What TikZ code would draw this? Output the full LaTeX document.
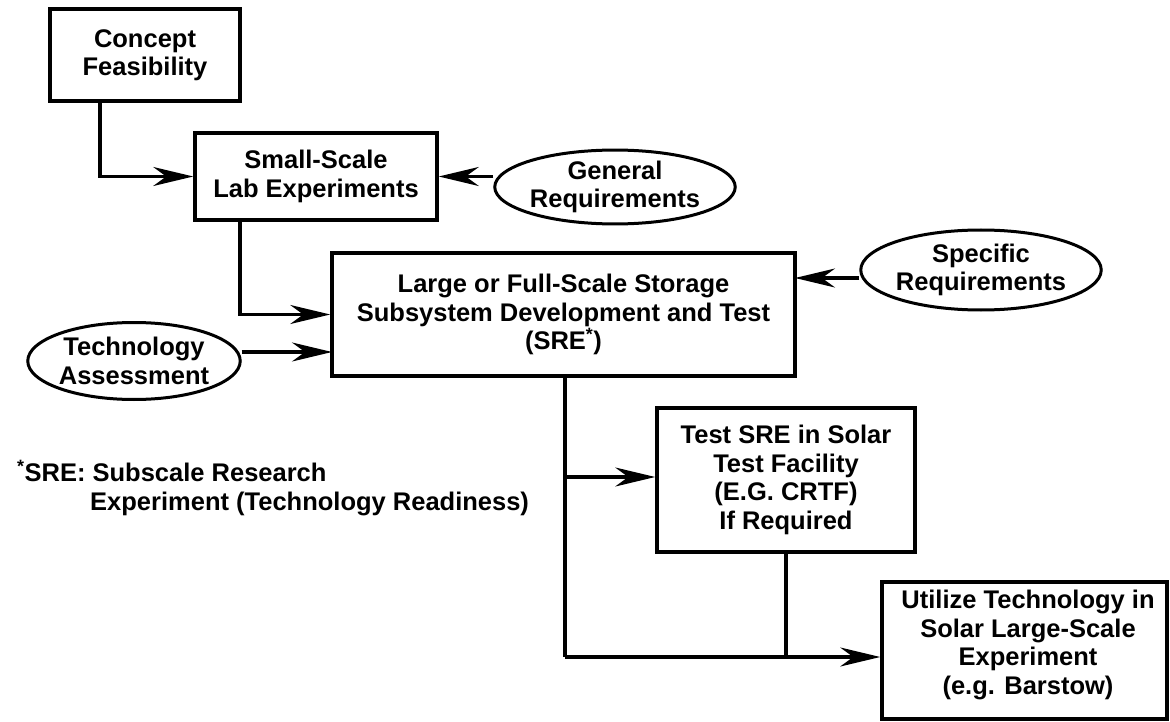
\documentclass[tikz,border=0pt]{standalone}
\usepackage{fontspec}
\setmainfont{Liberation Sans}
\usetikzlibrary{arrows.meta,shapes.geometric}
\begin{document}
\begin{tikzpicture}[x=1pt,y=-1pt,
  every node/.style={font=\bfseries\fontsize{25.5}{28.5}\selectfont, align=center, inner sep=0pt},
  box/.style={draw, line width=3.5pt, rectangle},
  oval/.style={draw, line width=3pt, ellipse},
  conn/.style={line width=3.3pt},
  arr/.style={line width=3.3pt, -{Stealth[length=40pt,width=19pt,inset=13pt]}}]
\useasboundingbox (0,0) rectangle (1170,722);
% boxes
\node[box, minimum width=190pt, minimum height=92pt] (cf) at (145,55) {Concept\\Feasibility};
\node[box, minimum width=242pt, minimum height=87pt] (small) at (316,176.5) {Small-Scale\\Lab Experiments};
\node[oval, minimum width=214pt, minimum height=68pt] (gen) at (615,187) {General\\Requirements};
\node[box, minimum width=463pt, minimum height=123pt] (large) at (563.5,314.5) {Large or Full-Scale Storage\\Subsystem Development and Test\\(SRE\textsuperscript{*})};
\node[oval, minimum width=208pt, minimum height=77pt] (tech) at (134,361) {Technology\\Assessment};
\node[oval, minimum width=213pt, minimum height=80pt] (spec) at (981,270) {Specific\\Requirements};
\node[box, minimum width=258pt, minimum height=144pt] (test) at (786,480) {Test SRE in Solar\\Test Facility\\(E.G. CRTF)\\If Required};
\node[box, minimum width=285pt, minimum height=137pt] (util) at (1024.5,650.5) {};
\node (utiltext) at (1028,645) {Utilize Technology in\\Solar Large-Scale\\Experiment\\(e.g. Barstow)};
\node[anchor=west, align=left] (note) at (17,488) {\textsuperscript{*}SRE: Subscale Research\\\hspace*{73pt}Experiment (Technology Readiness)};
% connectors
\coordinate (a1) at (100,101);
\draw[arr] (a1) |- (small.west);
\draw[arr] (gen.west |- small.east) -- (small.east);
\coordinate (a2) at (240,220);
\draw[arr] (a2) |- (large.west);
\coordinate (a3) at (332,352);
\draw[arr] (a3 -| tech.east) -- (a3);
\coordinate (a4) at (795,278);
\draw[arr] (a4 -| spec.west) -- (a4);
\coordinate (b0) at (565,376);
\coordinate (b1) at (565,657);
\draw[conn] (b0) -- (b1);
\draw[arr] (b0 |- 0,477) -- (test.west |- 0,477);
\draw[conn] (test.south) -- (test.south |- b1);
\draw[arr] (b1) -- (util.west |- b1);
\end{tikzpicture}
\end{document}
